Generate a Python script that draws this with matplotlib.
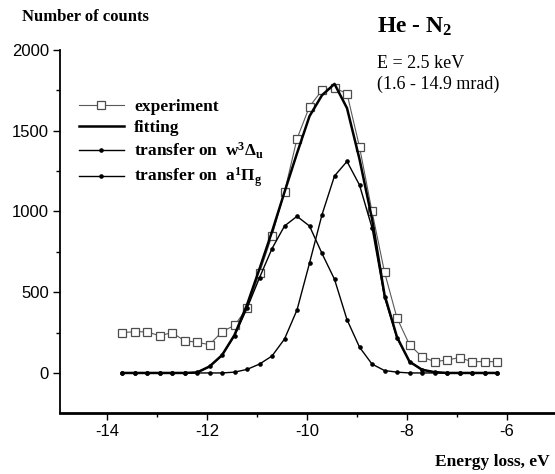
import matplotlib
matplotlib.use("Agg")
import matplotlib.pyplot as plt
from matplotlib.ticker import MultipleLocator

# energy loss grid (eV), same for every series
energy = [-13.70, -13.45, -13.20, -12.95, -12.70, -12.45, -12.20, -11.95,
          -11.70, -11.45, -11.20, -10.95, -10.70, -10.45, -10.20, -9.95,
          -9.70, -9.45, -9.20, -8.95, -8.70, -8.45, -8.20, -7.95,
          -7.70, -7.45, -7.20, -6.95, -6.70, -6.45, -6.20]

experiment = [250, 255, 255, 230, 250, 200, 190, 175,
              255, 295, 400, 620, 850, 1120, 1450, 1650,
              1750, 1765, 1730, 1400, 1000, 625, 340, 175,
              100, 70, 80, 95, 70, 70, 70]

w_delta = [0, 0, 0, 0, 0, 0, 3, 40,
           110, 230, 400, 590, 770, 910, 970, 910,
           740, 580, 330, 160, 55, 15, 5, 0,
           0, 0, 0, 0, 0, 0, 0]

a_pi = [0, 0, 0, 0, 0, 0, 0, 0,
        0, 5, 22, 55, 105, 210, 390, 680,
        980, 1220, 1310, 1164, 900, 470, 217, 70,
        20, 5, 0, 0, 0, 0, 0]

fitting = [0, 0, 0, 0, 0, 0, 3, 40,
           110, 235, 422, 645, 875, 1120, 1360, 1590,
           1720, 1790, 1640, 1324, 955, 485, 222, 70,
           20, 5, 0, 0, 0, 0, 0]

x_ticks = [-14, -12, -10, -8, -6]
y_ticks = [0, 500, 1000, 1500, 2000]

plt.rcParams['font.family'] = ['Liberation Serif', 'DejaVu Serif']
plt.rcParams['mathtext.fontset'] = 'custom'
plt.rcParams['mathtext.rm'] = 'Liberation Serif'
plt.rcParams['mathtext.it'] = 'Liberation Serif:italic'
plt.rcParams['mathtext.bf'] = 'Liberation Serif:bold'

W, H = 555, 474
fig = plt.figure(figsize=(W / 100, H / 100), dpi=100)
ax = fig.add_axes([60 / W, (H - 413) / H, 495 / W, (413 - 50) / H])

ax.plot(energy, experiment, color='0.35', lw=0.8, marker='s', ms=5.5,
        mfc='white', mec='0.3', mew=0.9, label='experiment')
ax.plot(energy, fitting, color='black', lw=1.8, label='fitting')
ax.plot(energy, w_delta, color='black', lw=1.0, marker='o', ms=2.3,
        label=r'transfer on  $\mathbf{w^3\Delta_u}$')
ax.plot(energy, a_pi, color='black', lw=1.0, marker='o', ms=2.3,
        label=r'transfer on  $\mathbf{a^1\Pi_g}$')

ax.set_xlim(-14.94, -5.04)
ax.set_ylim(-248, 2000)
ax.set_xticks(x_ticks)
ax.set_yticks(y_ticks)
ax.xaxis.set_minor_locator(MultipleLocator(1))
ax.yaxis.set_minor_locator(MultipleLocator(250))
ax.set_xticklabels([str(t) for t in x_ticks],
                   family='Liberation Sans', fontsize=12)
ax.set_yticklabels([str(t) for t in y_ticks], family='Liberation Sans',
                   fontsize=12)
ax.tick_params(which='major', length=5, width=1, direction='out', pad=3)
ax.tick_params(which='minor', length=3, width=1, direction='out')

for s in ['top', 'right']:
    ax.spines[s].set_visible(False)
ax.spines['bottom'].set_linewidth(2)
ax.spines['left'].set_linewidth(1.3)

leg = ax.legend(loc='upper left', bbox_to_anchor=(0.02, 0.89), frameon=False,
                handlelength=2.6, handletextpad=0.6, labelspacing=0.28,
                borderpad=0, prop={'family': 'Liberation Serif',
                                   'weight': 'bold', 'size': 12.5})

fig.text(22 / W, 1 - 17 / H, 'Number of counts', fontsize=12,
         fontweight='bold', va='center', ha='left')
fig.text(377 / W, 1 - 27 / H, r'He - N$_\mathbf{2}$', fontsize=17,
         fontweight='bold', va='center', ha='left')
fig.text(377 / W, 1 - 63 / H, 'E = 2.5 keV', fontsize=13,
         va='center', ha='left')
fig.text(377 / W, 1 - 84 / H, '(1.6 - 14.9 mrad)', fontsize=13,
         va='center', ha='left')
fig.text(550 / W, 1 - 462 / H, 'Energy loss, eV', fontsize=12.5,
         fontweight='bold', va='center', ha='right')

fig.savefig('out.png', dpi=100)
